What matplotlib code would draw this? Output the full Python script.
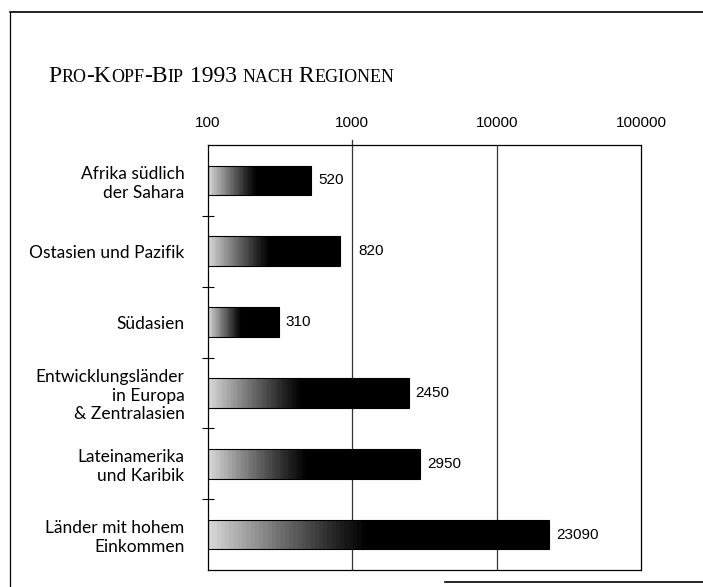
import numpy as np
import matplotlib.pyplot as plt
from matplotlib.lines import Line2D

# Pro-Kopf-BIP 1993 nach Regionen (log-Skala)
regionen = ['Afrika südlich\nder Sahara', 'Ostasien und Pazifik', 'Südasien',
            'Entwicklungsländer\nin Europa\n& Zentralasien',
            'Lateinamerika\nund Karibik', 'Länder mit hohem\nEinkommen']
bip = [520, 820, 310, 2450, 2950, 23090]
x_ticks = [100, 1000, 10000, 100000]

fig = plt.figure(figsize=(7.03, 5.87), dpi=100)
ax = fig.add_axes([208 / 703, 1 - 570 / 587, 433 / 703, 425 / 587])
ax.set_xscale('log')
ax.set_xlim(100, 100000)
ax.set_ylim(len(bip) - 0.5, -0.5)

# Balken mit Verlauf von hellgrau nach schwarz
n_seg = 80
for i, v in enumerate(bip):
    edges = np.logspace(2, np.log10(v), n_seg + 1)
    for k in range(n_seg):
        f = k / n_seg
        g = 0.84 * np.clip(1 - f / 0.46, 0, 1) ** 1.1
        ax.barh(i, edges[k + 1] - edges[k], left=edges[k], height=0.42,
                color=str(g), edgecolor='none', linewidth=0)
    ax.barh(i, v - 100, left=100, height=0.42, fill=False,
            edgecolor='black', linewidth=0.8)

# Gitterlinien bei 1000 und 10000
for gx in [1000, 10000]:
    ax.axvline(gx, color='#333333', linewidth=0.9, zorder=0.5)
ax.plot([1000, 1000], [-0.5, -0.57], color='#333333', lw=0.9, clip_on=False)

# Wertbeschriftung
fig.canvas.draw()
renderer = fig.canvas.get_renderer()
for i, v in enumerate(bip):
    t = ax.annotate(str(v), (v, i), xytext=(5, 0), textcoords='offset points',
                    ha='left', va='center', fontsize=11,
                    family='Liberation Sans')
    bb = t.get_window_extent(renderer)
    for gx in [1000, 10000]:
        px = ax.transData.transform((gx, i))[0]
        if bb.x0 - 3 < px < bb.x1:
            t.xy = (px + 6, ax.transData.transform((v, i))[1])
            t.xycoords = 'figure pixels'
            t.xyann = (0, 0)

# Achsen
ax.xaxis.tick_top()
ax.set_xticks(x_ticks)
ax.set_xticklabels([str(x) for x in x_ticks], family='Liberation Sans',
                   fontsize=11)
ax.xaxis.set_minor_locator(plt.NullLocator())
ax.tick_params(axis='x', which='major', length=0, pad=11)

ax.set_yticks(range(len(bip)))
ax.set_yticklabels(regionen, family='Lato', fontsize=12.5, linespacing=1.2)
ax.set_yticks(np.arange(0.5, len(bip) - 1, 1), minor=True)
ax.tick_params(axis='y', which='major', length=0, pad=17)
ax.tick_params(axis='y', which='minor', length=8, direction='inout',
               width=0.8)
for s in ax.spines.values():
    s.set_linewidth(0.9)

# Titel in Kapitälchen
parts = [('P', 17), ('RO', 13), ('-K', 17), ('OPF', 13), ('-B', 17),
         ('IP', 13), (' 1993 ', 17), ('NACH', 13), (' R', 17),
         ('EGIONEN', 13)]
x_px = 48
for txt, size in parts:
    t = fig.text(x_px / 703, 1 - 82 / 587, txt, fontsize=size,
                 family='Liberation Serif', ha='left', va='baseline')
    x_px += t.get_window_extent(renderer).width

# Rahmen
fig.add_artist(Line2D([10 / 703, 10 / 703], [0, 1 - 12 / 587],
                      color='black', lw=0.9, transform=fig.transFigure))
fig.add_artist(Line2D([10 / 703, 1], [1 - 12 / 587, 1 - 12 / 587],
                      color='black', lw=1.2, transform=fig.transFigure))
fig.add_artist(Line2D([445 / 703, 1], [1 - 582 / 587, 1 - 582 / 587],
                      color='black', lw=1.2, transform=fig.transFigure))

fig.savefig('out.png', dpi=100)
